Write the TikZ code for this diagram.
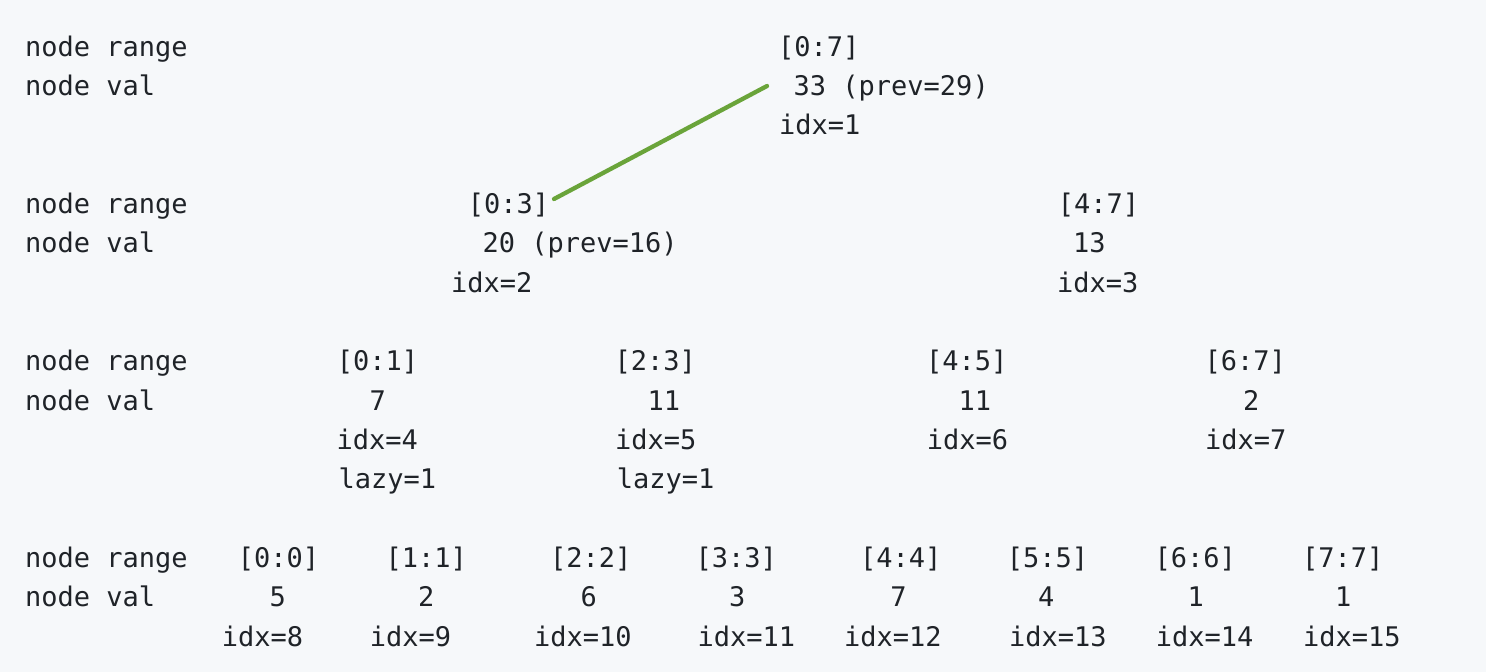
\documentclass[tikz,border=0pt]{standalone}
\usepackage{fontspec}
\setmonofont{DejaVu Sans Mono}
\definecolor{bgc}{HTML}{F6F8FA}
\definecolor{fgc}{HTML}{1F2328}
\definecolor{edgec}{RGB}{106,164,58}
\begin{document}
\begin{tikzpicture}[x=1pt,y=-1pt,
  txt/.style={anchor=base west, inner sep=0pt, outer sep=0pt,
    font=\ttfamily\fontsize{27}{32}\selectfont, text=fgc},
  rng/.style={txt, xshift=-2pt},
  treeedge/.style={draw=edgec, line width=4.3pt, line cap=round}]
\fill[bgc] (0,0) rectangle (1486,672);
\useasboundingbox (0,0) rectangle (1486,672);
\begin{scope}[xshift=2.7pt]
% labels
\node[txt] (l1r) at (22.5,56) {node range};
\node[txt] (l1v) at (22.5,95.3) {node val};
\node[txt] (l2r) at (22.5,213.3) {node range};
\node[txt] (l2v) at (22.5,252.7) {node val};
\node[txt] (l3r) at (22.5,370.7) {node range};
\node[txt] (l3v) at (22.5,410) {node val};
\node[txt] (l4r) at (22.5,567.3) {node range};
\node[txt] (l4v) at (22.5,606.7) {node val};
% level 1
\node[rng] (n1r) at (777.5,56) {[0:7]};
\node[txt] (n1v) at (791,95.3) {33 (prev=29)};
\node[txt] (n1i) at (776.5,134.7) {idx=1};
% level 2
\node[rng] (n2r) at (467.2,213.3) {[0:3]};
\node[txt] (n2v) at (480,252.7) {20 (prev=16)};
\node[txt] (n2i) at (448.5,292) {idx=2};
\node[rng] (n3r) at (1057.2,213.3) {[4:7]};
\node[txt] (n3v) at (1070.5,252.7) {13};
\node[txt] (n3i) at (1054.5,292) {idx=3};
% level 3
\node[rng] (n4r) at (336.2,370.7) {[0:1]};
\node[txt] (n4v) at (367,410) {7};
\node[txt] (n4i) at (333.8,449.3) {idx=4};
\node[txt] (n4l) at (335.8,488.7) {lazy=1};
\node[rng] (n5r) at (613.8,370.7) {[2:3]};
\node[txt] (n5v) at (644.8,410) {11};
\node[txt] (n5i) at (612.5,449.3) {idx=5};
\node[txt] (n5l) at (614.2,488.7) {lazy=1};
\node[rng] (n6r) at (925.5,370.7) {[4:5]};
\node[txt] (n6v) at (955.8,410) {11};
\node[txt] (n6i) at (924.2,449.3) {idx=6};
\node[rng] (n7r) at (1203.8,370.7) {[6:7]};
\node[txt] (n7v) at (1240.3,410) {2};
\node[txt] (n7i) at (1202.5,449.3) {idx=7};
% level 4
\node[rng] (n8r) at (237.2,567.3) {[0:0]};
\node[txt] (n8v) at (267,606.7) {5};
\node[txt] (n8i) at (219.2,646) {idx=8};
\node[rng] (n9r) at (384.8,567.3) {[1:1]};
\node[txt] (n9v) at (415.3,606.7) {2};
\node[txt] (n9i) at (367.2,646) {idx=9};
\node[rng] (n10r) at (549.5,567.3) {[2:2]};
\node[txt] (n10v) at (578,606.7) {6};
\node[txt] (n10i) at (531.5,646) {idx=10};
\node[rng] (n11r) at (694.8,567.3) {[3:3]};
\node[txt] (n11v) at (726.3,606.7) {3};
\node[txt] (n11i) at (694.8,646) {idx=11};
\node[rng] (n12r) at (859.5,567.3) {[4:4]};
\node[txt] (n12v) at (887.7,606.7) {7};
\node[txt] (n12i) at (841.5,646) {idx=12};
\node[rng] (n13r) at (1006.2,567.3) {[5:5]};
\node[txt] (n13v) at (1035.3,606.7) {4};
\node[txt] (n13i) at (1006.5,646) {idx=13};
\node[rng] (n14r) at (1153.8,567.3) {[6:6]};
\node[txt] (n14v) at (1184.8,606.7) {1};
\node[txt] (n14i) at (1153.2,646) {idx=14};
\node[rng] (n15r) at (1301.5,567.3) {[7:7]};
\node[txt] (n15v) at (1332.5,606.7) {1};
\node[txt] (n15i) at (1300.5,646) {idx=15};
\end{scope}
% edge
\coordinate (eA) at (554,199);
\coordinate (eB) at (767,86);
\draw[treeedge] (eA) -- (eB);
\end{tikzpicture}
\end{document}
